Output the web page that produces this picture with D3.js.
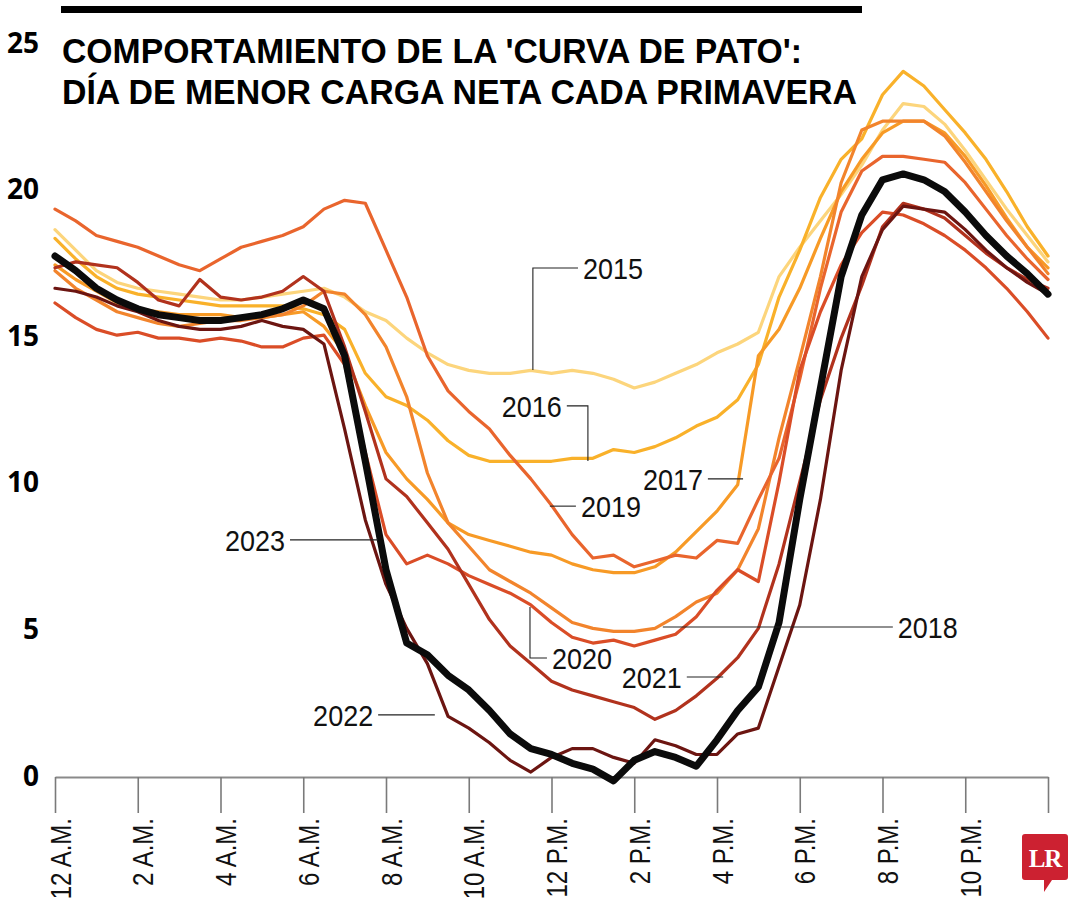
<!DOCTYPE html>
<html><head><meta charset="utf-8">
<script src="https://cdn.jsdelivr.net/npm/d3@7"></script>
<style>
body{margin:0;background:#fff;}
svg{display:block;}
</style></head><body>
<svg id="chart" width="1080" height="900"></svg>
<script>
// ---------- DATA ----------
const hours = [0,0.5,1,1.5,2,2.5,3,3.5,4,4.5,5,5.5,6,6.5,7,7.5,8,8.5,9,9.5,10,10.5,11,11.5,12,12.5,13,13.5,14,14.5,15,15.5,16,16.5,17,17.5,18,18.5,19,19.5,20,20.5,21,21.5,22,22.5,23,23.5,24];
const years = ["2015","2016","2017","2018","2019","2020","2021","2022","2023"];
const s2015 = [18.6,17.9,17.2,16.8,16.6,16.5,16.4,16.3,16.2,16.2,16.3,16.4,16.5,16.6,16.3,15.8,15.5,14.9,14.4,14.0,13.8,13.7,13.7,13.8,13.7,13.8,13.7,13.5,13.2,13.4,13.7,14.0,14.4,14.7,15.1,17.0,18.0,18.9,19.8,20.8,22.0,22.9,22.8,22.2,21.3,20.3,19.3,18.4,17.5];
const s2016 = [18.3,17.6,17.0,16.6,16.4,16.3,16.2,16.1,16.0,16.0,16.0,16.0,15.9,15.7,15.2,13.7,12.9,12.6,12.1,11.4,10.9,10.7,10.7,10.7,10.7,10.8,10.8,11.1,11.0,11.2,11.5,11.9,12.2,12.8,14.0,16.3,17.9,19.7,21.0,21.7,23.2,24.0,23.5,22.7,21.9,21.0,19.9,18.7,17.7];
const s2017 = [17.4,16.9,16.5,16.1,15.9,15.8,15.7,15.7,15.7,15.6,15.6,15.7,15.8,15.3,14.4,12.6,11.0,10.1,9.4,8.6,8.2,8.0,7.8,7.6,7.5,7.2,7.0,6.9,6.9,7.1,7.6,8.3,9.0,9.9,14.3,15.2,16.6,18.3,19.9,21.0,21.9,22.3,22.3,21.9,21.1,20.1,19.0,18.0,17.3];
const s2018 = [17.2,16.6,16.2,15.8,15.6,15.4,15.3,15.4,15.5,15.5,15.6,15.7,16.0,16.5,16.4,15.7,14.6,12.9,10.3,8.6,7.8,7.0,6.6,6.2,5.7,5.2,5.0,4.9,4.9,5.0,5.4,5.9,6.2,7.0,8.4,11.5,14.2,17.0,20.2,22.0,22.3,22.3,22.3,21.8,20.9,19.9,18.9,18.0,17.1];
const s2019 = [19.3,18.9,18.4,18.2,18.0,17.7,17.4,17.2,17.6,18.0,18.2,18.4,18.7,19.3,19.6,19.5,17.9,16.3,14.3,13.1,12.4,11.8,10.9,10.1,9.2,8.2,7.4,7.5,7.1,7.3,7.5,7.4,8.0,7.9,9.4,10.8,13.5,16.6,19.2,20.6,21.1,21.1,21.0,20.9,20.2,19.3,18.4,17.6,16.9];
const s2020 = [16.1,15.6,15.2,15.0,15.1,14.9,14.9,14.8,14.9,14.8,14.6,14.6,14.9,15.0,14.0,11.0,8.2,7.2,7.5,7.2,6.8,6.5,6.2,5.8,5.2,4.7,4.5,4.6,4.4,4.6,4.8,5.4,6.3,7.0,6.6,10.0,13.8,15.8,17.4,18.5,19.2,19.1,18.8,18.4,17.9,17.3,16.6,15.8,14.9];
const s2021 = [17.3,17.5,17.4,17.3,16.8,16.2,16.0,16.9,16.3,16.2,16.3,16.5,17.0,16.5,14.6,12.4,10.1,9.5,8.6,7.7,6.5,5.3,4.4,3.8,3.2,2.9,2.7,2.5,2.3,1.9,2.2,2.7,3.3,4.0,5.0,7.2,10.0,12.8,14.9,16.7,18.7,19.5,19.3,19.0,18.4,17.8,17.3,16.9,16.6];
const s2022 = [16.6,16.5,16.3,16.0,15.8,15.5,15.3,15.2,15.2,15.3,15.5,15.3,15.2,14.7,11.8,8.7,6.5,5.0,3.8,2.0,1.6,1.1,0.5,0.1,0.6,0.9,0.9,0.6,0.4,1.2,1.0,0.7,0.7,1.4,1.6,3.7,5.8,9.4,13.8,17.0,18.6,19.4,19.3,19.2,18.6,17.9,17.3,16.8,16.4];
const s2023 = [17.7,17.2,16.6,16.2,15.9,15.7,15.6,15.5,15.5,15.6,15.7,15.9,16.2,15.9,14.3,10.7,7.0,4.5,4.1,3.4,2.9,2.2,1.4,0.9,0.7,0.4,0.2,-0.2,0.5,0.8,0.6,0.3,1.2,2.2,3.0,5.2,9.4,13.2,17.0,19.1,20.3,20.5,20.3,19.9,19.2,18.4,17.7,17.1,16.4];
const seriesValues = [s2015,s2016,s2017,s2018,s2019,s2020,s2021,s2022,s2023];

const xTickValues = [0,2,4,6,8,10,12,14,16,18,20,22,24];
const xTickLabels = ["12 A.M.","2 A.M.","4 A.M.","6 A.M.","8 A.M.","10 A.M.","12 P.M.","2 P.M.","4 P.M.","6 P.M.","8 P.M.","10 P.M.",""];
const yTickValues = [0,5,10,15,20,25];
const titleLines = ["COMPORTAMIENTO DE LA 'CURVA DE PATO':","DÍA DE MENOR CARGA NETA CADA PRIMAVERA"];

// annotation leader lines in data coordinates (hour, value)
const annoYears = ["2015","2016","2019","2017","2023","2022","2020","2021","2018"];
const annoPaths = [
  [[11.55,13.81],[11.55,17.29],[12.64,17.29]],
  [[12.88,10.71],[12.88,12.59],[12.37,12.59]],
  [[11.96,9.17],[12.59,9.17]],
  [[16.63,10.1],[15.78,10.1]],
  [[7.81,8.02],[5.68,8.02]],
  [[9.18,2.05],[7.81,2.05]],
  [[11.48,5.73],[11.48,3.99],[11.89,3.99]],
  [[16.15,3.34],[15.27,3.34]],
  [[14.69,5.05],[20.25,5.05]]
];
const annoSide = ["start","end","start","end","end","end","start","end","start"];

// ---------- STYLE ----------
const colors = ["#fcd57c","#f9b12a","#f79a26","#f2842c","#e9652d","#da4d27","#b1321d","#6c1511","#0b0b0b"];
const widths = [3.2,3.2,3.2,3.2,3.2,3.2,3.2,3.2,7];
const plainFont = "'Liberation Sans',Arial,sans-serif";
const boldFont = "'Open Sans','Liberation Sans',sans-serif";
const titleFont = "'Liberation Sans',Arial,sans-serif";

const svg = d3.select("#chart");
const x = d3.scaleLinear().domain([0,24]).range([55,1048]);
const y = d3.scaleLinear().domain([0,25]).range([775,42]);

// top bar
svg.append("rect").attr("x",61).attr("y",6).attr("width",801).attr("height",7).attr("fill","#000");

// title
const title = svg.append("g");
const titleTargets = [740,795];
titleLines.forEach((t,i)=>{
  title.append("text")
    .attr("x",62).attr("y",63 + i*41)
    .attr("font-family",titleFont).attr("font-weight",700)
    .attr("font-size",35).attr("fill","#000").text(t)
    .attr("textLength",titleTargets[i]).attr("lengthAdjust","spacingAndGlyphs");
});

// y axis labels
const yAxis = d3.axisLeft(y).tickValues(yTickValues).tickSize(0).tickPadding(0).tickFormat(d3.format("d"));
const yg = svg.append("g").attr("transform","translate(39,0)").call(yAxis);
yg.select(".domain").remove();
yg.selectAll("text").attr("font-family",boldFont).attr("font-weight",700)
  .attr("font-size",28).attr("fill","#000").attr("dy","0.36em");

// x axis
const xAxis = d3.axisBottom(x).tickValues(xTickValues).tickSize(36).tickSizeOuter(0)
  .tickFormat((d,i)=>xTickLabels[i]);
const xg = svg.append("g").attr("transform","translate(0,777)").call(xAxis);
xg.select(".domain").attr("stroke","#8a8a8a").attr("stroke-width",2);
xg.selectAll(".tick line").attr("stroke","#7a7a7a").attr("stroke-width",1.6);
xg.selectAll(".tick text")
  .attr("font-family",plainFont).attr("font-size",30).attr("fill","#111")
  .attr("text-anchor","end")
  .attr("transform","translate(0,41) rotate(-90) scale(0.8,1)")
  .attr("x",0).attr("y",0).attr("dy","0.5em").attr("dx",0);

// lines
const line = d3.line().x(d=>x(d[0])).y(d=>y(d[1])).curve(d3.curveLinear);
const lg = svg.append("g");
seriesValues.forEach((vals,i)=>{
  const pts = hours.map((h,j)=>[h,vals[j]]);
  lg.append("path").attr("d",line(pts)).attr("fill","none")
    .attr("stroke",colors[i]).attr("stroke-width",widths[i])
    .attr("stroke-linejoin","round").attr("stroke-linecap","round");
});

// annotations
const ag = svg.append("g");
const leader = d3.line().x(d=>x(d[0])).y(d=>y(d[1]));
annoPaths.forEach((p,i)=>{
  ag.append("path").attr("d",leader(p))
    .attr("fill","none").attr("stroke","#222").attr("stroke-width",1.1);
});
annoPaths.forEach((p,i)=>{
  const last = p[p.length-1];
  const side = annoSide[i];
  const tx = x(last[0]) + (side==="start"?5:-5);
  const ty = y(last[1]) + 11;
  ag.append("text")
    .attr("transform",`translate(${tx},${ty}) scale(0.9,1)`)
    .attr("text-anchor", side)
    .attr("font-family",plainFont).attr("font-size",30).attr("fill","#111")
    .text(annoYears[i]);
});

// LR logo
const logo = svg.append("g");
logo.append("path")
  .attr("d","M1025,834 h40 a3,3 0 0 1 3,3 v40 a3,3 0 0 1 -3,3 h-13 l-8,12 v-12 h-19 a3,3 0 0 1 -3,-3 v-40 a3,3 0 0 1 3,-3 z")
  .attr("fill","#cc2131");
logo.append("text").attr("x",1045).attr("y",867).attr("text-anchor","middle")
  .attr("font-family","'Liberation Serif','DejaVu Serif',serif").attr("font-weight",700)
  .attr("font-size",25).attr("fill","#fff").attr("letter-spacing",-1).text("LR");
</script>
</body></html>
